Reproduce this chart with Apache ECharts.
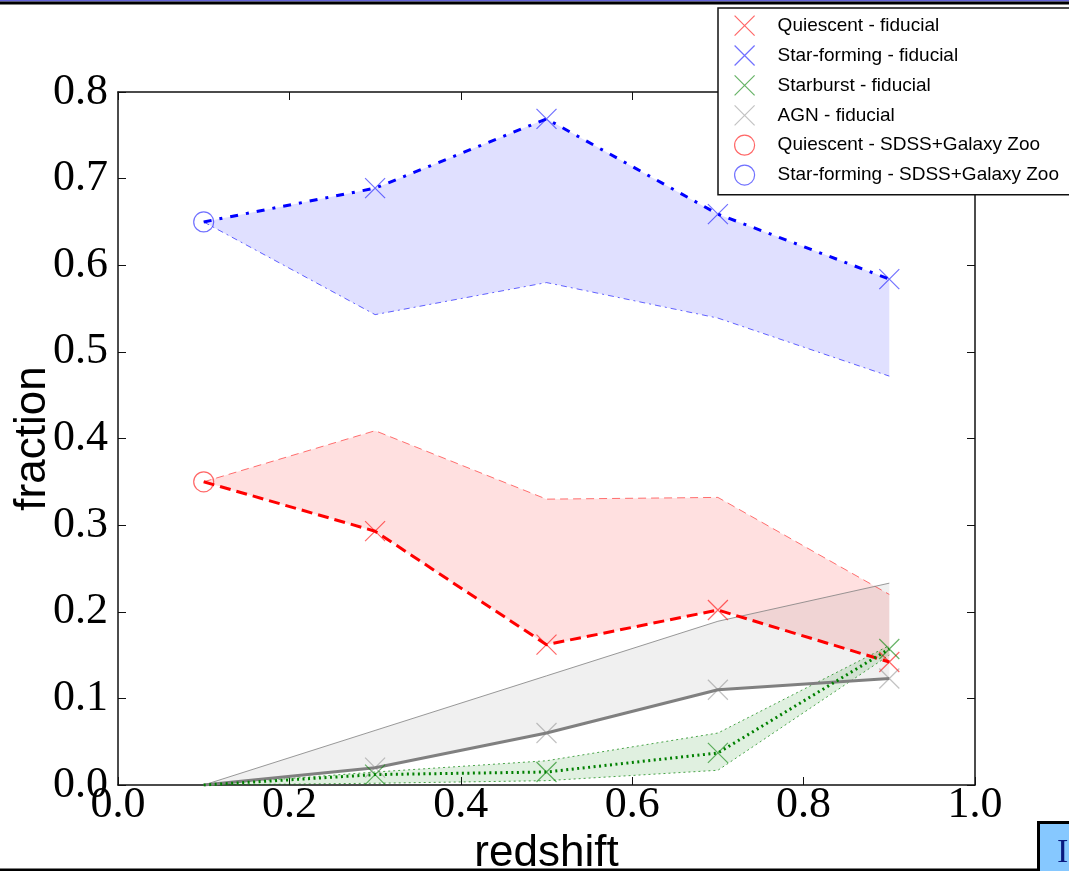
<!DOCTYPE html>
<html>
<head>
<meta charset="utf-8">
<script src="https://cdn.jsdelivr.net/npm/echarts@6/dist/echarts.min.js"></script>
<style>
  html, body { margin: 0; padding: 0; background: #fff; }
  #chart { width: 1069px; height: 871px; }
</style>
</head>
<body>
<div id="chart"></div>
<script>
// Galaxy population fractions versus redshift
const redshift = [0.1, 0.3, 0.5, 0.7, 0.9];

const quiescent = [0.35, 0.293, 0.162, 0.202, 0.142];
const quiescentUpper = [0.35, 0.409, 0.330, 0.332, 0.220];

const starForming = [0.65, 0.689, 0.769, 0.659, 0.584];
const starFormingLower = [0.65, 0.543, 0.580, 0.539, 0.472];

const starburst = [0, 0.012, 0.015, 0.037, 0.157];
const starburstUpper = [0, 0.015, 0.028, 0.060, 0.161];
const starburstLower = [0, 0.002, 0.005, 0.017, 0.150];

const agn = [0, 0.020, 0.060, 0.110, 0.123];
const agnUpper = [0, 0.063, 0.126, 0.189, 0.233];

const sdssRedshift = [0.1];
const quiescentSDSS = [0.35];
const starFormingSDSS = [0.65];

const legendNames = [
  'Quiescent - fiducial',
  'Star-forming - fiducial',
  'Starburst - fiducial',
  'AGN - fiducial',
  'Quiescent - SDSS+Galaxy Zoo',
  'Star-forming - SDSS+Galaxy Zoo'
];

const crossSymbol = 'path://M0,0L10,10M10,0L0,10';
const tickFont = 'Liberation Serif';
const nameFont = 'Liberation Sans';

function pairs(xs, ys) {
  return xs.map((x, i) => [x, ys[i]]);
}

// shaded region between two curves
function band(lo, hi, fill) {
  return {
    type: 'custom',
    silent: true,
    z: 1,
    data: redshift.map((x, i) => [x, lo[i], hi[i]]),
    encode: { x: 0, y: [1, 2] },
    renderItem(params, api) {
      if (params.dataIndex !== 0) return null;
      const pts = [];
      redshift.forEach((x, i) => pts.push(api.coord([x, hi[i]])));
      for (let i = redshift.length - 1; i >= 0; i--) pts.push(api.coord([redshift[i], lo[i]]));
      return { type: 'polygon', shape: { points: pts }, style: { fill: fill, stroke: 'none' } };
    }
  };
}

function curve(vals, color, width, type, opacity, z) {
  return {
    type: 'line',
    data: pairs(redshift, vals),
    symbol: 'none',
    showSymbol: false,
    silent: true,
    z: z,
    lineStyle: { color: color, width: width, type: type, opacity: opacity, cap: 'butt' }
  };
}

function crosses(name, vals, color) {
  return {
    type: 'scatter',
    name: name,
    data: pairs(redshift.slice(1), vals.slice(1)),
    symbol: crossSymbol,
    symbolSize: 20,
    silent: true,
    z: 6,
    itemStyle: { color: 'rgba(0,0,0,0)', borderColor: color, borderWidth: 1.2 }
  };
}

function rings(name, vals, color) {
  return {
    type: 'scatter',
    name: name,
    data: pairs(sdssRedshift, vals),
    symbol: 'circle',
    symbolSize: 20,
    silent: true,
    z: 6,
    itemStyle: { color: 'rgba(0,0,0,0)', borderColor: color, borderWidth: 1.2 }
  };
}

const frame = { show: true, onZero: false, lineStyle: { color: '#111', width: 1.5 } };
const ticksIn = { show: true, inside: true, length: 8, lineStyle: { color: '#111', width: 1 } };

const chart = echarts.init(document.getElementById('chart'), null, { renderer: 'canvas' });

chart.setOption({
  animation: false,
  backgroundColor: '#fff',
  grid: { left: 118, right: 94, top: 92, bottom: 86, outerBoundsMode: 'none', containLabel: false },
  xAxis: [
    {
      type: 'value', min: 0, max: 1, interval: 0.2, position: 'bottom',
      axisLine: frame, axisTick: ticksIn, splitLine: { show: false },
      axisLabel: { margin: -2, color: '#000', fontFamily: tickFont, fontSize: 44,
        formatter: v => v.toFixed(1) },
      name: 'redshift', nameLocation: 'middle', nameGap: 44,
      nameTextStyle: { fontFamily: nameFont, fontSize: 44, color: '#000' }
    },
    {
      type: 'value', min: 0, max: 1, interval: 0.2, position: 'top',
      axisLine: frame, axisTick: ticksIn, splitLine: { show: false }, axisLabel: { show: false }
    }
  ],
  yAxis: [
    {
      type: 'value', min: 0, max: 0.8, interval: 0.1, position: 'left',
      axisLine: frame, axisTick: ticksIn, splitLine: { show: false },
      axisLabel: { margin: 10, color: '#000', fontFamily: tickFont, fontSize: 44,
        formatter: v => v.toFixed(1) },
      name: 'fraction', nameLocation: 'middle', nameGap: 63, nameMoveOverlap: false,
      nameTextStyle: { fontFamily: nameFont, fontSize: 44, color: '#000' }
    },
    {
      type: 'value', min: 0, max: 0.8, interval: 0.1, position: 'right',
      axisLine: frame, axisTick: ticksIn, splitLine: { show: false }, axisLabel: { show: false }
    }
  ],
  legend: {
    data: legendNames,
    orient: 'vertical',
    left: 718,
    top: 8,
    padding: [7, 40, 9, 16],
    itemWidth: 56,
    itemHeight: 20,
    itemGap: 8.7,
    backgroundColor: '#fff',
    borderColor: '#111',
    borderWidth: 1.5,
    borderRadius: 0,
    z: 20,
    selectedMode: false,
    itemStyle: { borderWidth: 1.2 },
    textStyle: { fontFamily: nameFont, fontSize: 19, color: '#000' }
  },
  series: [
    // shaded ranges
    band(quiescent, quiescentUpper, 'rgba(255,0,0,0.12)'),
    band(starFormingLower, starForming, 'rgba(0,0,255,0.12)'),
    band(agn, agnUpper, 'rgba(128,128,128,0.12)'),
    band(starburstLower, starburstUpper, 'rgba(0,128,0,0.12)'),

    // range edges
    curve(quiescentUpper, '#ff0000', 1, [8, 5], 0.55, 2),
    curve(starFormingLower, '#0000ff', 1, [6, 4, 2, 4], 0.6, 2),
    curve(agnUpper, '#808080', 1, 'solid', 0.8, 2),
    curve(starburstUpper, '#008000', 1, [2, 3], 0.7, 2),
    curve(starburstLower, '#008000', 1, [2, 3], 0.7, 2),

    // central values
    curve(quiescent, '#ff0000', 3, [11, 6], 1, 3),
    curve(starForming, '#0000ff', 3, [8, 8, 3, 8], 1, 3),
    curve(agn, '#808080', 3, 'solid', 1, 3),
    curve(starburst, '#008000', 3, [2, 3.5], 1, 3),

    // markers
    crosses(legendNames[0], quiescent, 'rgba(255,0,0,0.75)'),
    crosses(legendNames[1], starForming, 'rgba(0,0,255,0.7)'),
    crosses(legendNames[2], starburst, 'rgba(0,128,0,0.75)'),
    crosses(legendNames[3], agn, 'rgba(128,128,128,0.6)'),
    rings(legendNames[4], quiescentSDSS, 'rgba(255,0,0,0.75)'),
    rings(legendNames[5], starFormingSDSS, 'rgba(0,0,255,0.7)')
  ],
  graphic: [
    { type: 'rect', left: 0, top: 0, z: 30, shape: { width: 1069, height: 1.5 }, style: { fill: '#6464d8' } },
    { type: 'rect', left: 0, top: 1.5, z: 30, shape: { width: 1069, height: 3 }, style: { fill: '#000' } },
    { type: 'rect', left: 0, top: 868.5, z: 30, shape: { width: 1069, height: 2.5 }, style: { fill: '#000' } },
    { type: 'rect', left: 1037, top: 821, z: 30, shape: { width: 50, height: 60 },
      style: { fill: '#86c8ff', stroke: '#000', lineWidth: 3 } },
    { type: 'text', left: 1057, top: 836, z: 31,
      style: { text: 'I', fill: '#0a1a80', font: '34px "Liberation Serif"' } }
  ]
});
</script>
</body>
</html>
